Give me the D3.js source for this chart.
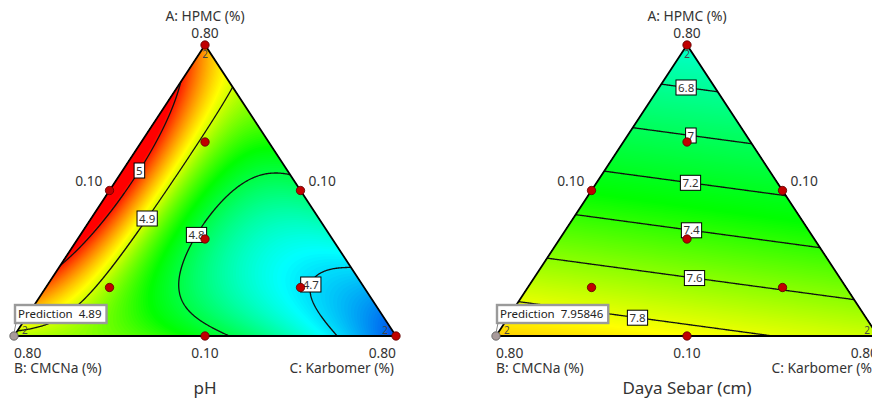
<!DOCTYPE html>
<html>
<head>
<meta charset="utf-8">
<title>Mixture contour plots</title>
<style>
body { margin: 0; background: #fff; }
svg { display: block; font-family: "Noto Sans", "Open Sans", sans-serif; }
</style>
<script src="https://cdnjs.cloudflare.com/ajax/libs/d3/7.8.5/d3.min.js"></script>
</head>
<body>
<svg id="chart" width="872" height="403"></svg>
<script>
// component names and tick labels (actual ranges shown by the software)
var compNames = ["A: HPMC (%)", "B: CMCNa (%)", "C: Karbomer (%)"];
var vertexTicks = ["0.80", "0.80", "0.80"];
var edgeTicks = ["0.10", "0.10", "0.10"];   // AB edge, AC edge, BC edge

// design points in pseudo components (simplex centroid + axial checks)
var designA = [1, 0, 0, 0.5, 0.5, 0, 0.3333, 0.6667, 0.1667, 0.1667];
var designB = [0, 1, 0, 0.5, 0, 0.5, 0.3333, 0.1667, 0.6667, 0.1667];
var designC = [0, 0, 1, 0, 0.5, 0.5, 0.3333, 0.1667, 0.1667, 0.6667];
var replicates = [2, 2, 2, 1, 1, 1, 1, 1, 1, 1];

// pH: Scheffe special cubic  A, B, C, AB, AC, BC, ABC
var phCoef = [4.95, 4.89, 4.63, 0.52, -0.03, 0.23, -3.15];
var phLevels = [4.7, 4.8, 4.9, 5];
var phColorStops = [4.635, 4.715, 4.83, 4.915, 5.01];
var phPrediction = "4.89";

// Daya Sebar: linear mixture model
var dsCoef = [6.62, 7.958, 7.74, 0, 0, 0, 0];
var dsLevels = [6.8, 7, 7.2, 7.4, 7.6, 7.8];
var dsColorStops = [5.6, 6.45, 7.3, 7.85, 8.4];
var dsPrediction = "7.95846";

var rampColors = ["#0055ee", "#00ffff", "#00ff00", "#ffff00", "#ff0000"];

var svg = d3.select("#chart");

function model(k, a, b, c) {
	return k[0]*a + k[1]*b + k[2]*c + k[3]*a*b + k[4]*a*c + k[5]*b*c + k[6]*a*b*c;
}

function drawTernary(o) {
	var x = d3.scaleLinear().domain([0, 1]).range([o.left, o.right]);   // c + a/2
	var y = d3.scaleLinear().domain([0, 1]).range([o.base, o.top]);     // a
	var color = d3.scaleLinear().domain(o.stops).range(rampColors).clamp(true);
	var g = svg.append("g");

	function px(a, b, c) { return [x(c + a/2), y(a)]; }
	var corners = [px(1,0,0), px(0,1,0), px(0,0,1)];

	g.append("clipPath").attr("id", o.id)
		.append("path").attr("d", "M" + corners.join("L") + "Z");

	// sample the model on a pixel grid around the triangle
	function grid(s) {
		var pad = 6;
		var x0 = o.left - pad, y0 = o.top - pad;
		var nx = Math.ceil((o.right - o.left + 2*pad) / s);
		var ny = Math.ceil((o.base - o.top + 2*pad) / s);
		var vals = new Array(nx*ny), lo = Infinity, hi = -Infinity;
		for (var j = 0; j < ny; j++) {
			for (var i = 0; i < nx; i++) {
				var a = y.invert(y0 + (j + 0.5)*s);
				var c = x.invert(x0 + (i + 0.5)*s) - a/2;
				var b = 1 - a - c;
				var v = model(o.coef, a, b, c);
				vals[j*nx + i] = v;
				if (a >= 0 && b >= 0 && c >= 0) { lo = Math.min(lo, v); hi = Math.max(hi, v); }
			}
		}
		var path = d3.geoPath(d3.geoIdentity().scale(s).translate([x0, y0]));
		return {nx: nx, ny: ny, vals: vals, lo: lo, hi: hi, path: path, s: s, x0: x0, y0: y0};
	}

	// smooth colour fill from stacked filled contours
	var gf = grid(2);
	var step = (gf.hi - gf.lo) / 180;
	var fillLevels = d3.range(gf.lo + step, gf.hi, step);
	var fill = g.append("g").attr("clip-path", "url(#" + o.id + ")");
	fill.append("path").attr("d", "M" + corners.join("L") + "Z").attr("fill", color(gf.lo));
	fill.selectAll("path.band")
		.data(d3.contours().size([gf.nx, gf.ny]).thresholds(fillLevels)(gf.vals))
		.join("path").attr("class", "band")
		.attr("d", gf.path)
		.attr("fill", function(d) { return color(d.value + step/2); });

	// contour lines
	var gl = grid(1);
	var lines = d3.contours().size([gl.nx, gl.ny]).thresholds(o.levels)(gl.vals);
	g.append("g").attr("clip-path", "url(#" + o.id + ")")
		.selectAll("path").data(lines).join("path")
		.attr("d", gl.path)
		.attr("fill", "none")
		.attr("stroke", "#111")
		.attr("stroke-width", 1.3);

	// triangle border
	g.append("path").attr("d", "M" + corners.join("L") + "Z")
		.attr("fill", "none").attr("stroke", "#000").attr("stroke-width", 1.8)
		.attr("stroke-linejoin", "miter");

	// contour labels, snapped to the nearest point on each line
	lines.forEach(function(ln, k) {
		var anchor = o.labelAt[k], best = null, bd = Infinity;
		ln.coordinates.forEach(function(poly) { poly.forEach(function(ring) { ring.forEach(function(p) {
			var qx = gl.x0 + p[0]*gl.s, qy = gl.y0 + p[1]*gl.s;
			var d = (qx - anchor[0])*(qx - anchor[0]) + (qy - anchor[1])*(qy - anchor[1]);
			if (d < bd) { bd = d; best = [qx, qy]; }
		}); }); });
		if (!best) return;
		var lg = g.append("g").attr("transform", "translate(" + best + ")");
		var r = lg.append("rect");
		var t = lg.append("text").text(d3.format("~g")(ln.value))
			.attr("text-anchor", "middle").attr("dy", "0.36em")
			.attr("font-size", 11.5).attr("fill", "#333");
		var w = t.node().getComputedTextLength() + 4;
		r.attr("x", -w/2).attr("y", -7.5).attr("width", w).attr("height", 15)
			.attr("fill", "#fff").attr("stroke", "#000").attr("stroke-width", 1);
	});

	// design points
	var pts = designA.map(function(a, i) { return {p: px(a, designB[i], designC[i]), rep: replicates[i], i: i}; });
	g.selectAll("circle.pt").data(pts).join("circle").attr("class", "pt")
		.attr("cx", function(d) { return d.p[0]; })
		.attr("cy", function(d) { return d.p[1]; })
		.attr("r", 4.2)
		.attr("fill", function(d) { return d.i == 1 ? "#a89a9a" : "#c00000"; })
		.attr("stroke", function(d) { return d.i == 1 ? "#555" : "#5a0000"; })
		.attr("stroke-width", 0.8);
	var repOff = [[0, 13, "middle"], [8, -2, "start"], [-8, -2, "end"]];
	g.selectAll("text.rep").data(pts.filter(function(d) { return d.rep > 1; })).join("text")
		.attr("class", "rep")
		.attr("x", function(d) { return d.p[0] + repOff[d.i][0]; })
		.attr("y", function(d) { return d.p[1] + repOff[d.i][1]; })
		.attr("text-anchor", function(d) { return repOff[d.i][2]; })
		.attr("font-size", 10).attr("fill", "#444")
		.text(function(d) { return d.rep; });

	// prediction flag at the B vertex
	var bp = corners[1];
	var flag = g.append("g");
	var ft = flag.append("text").attr("x", bp[0] + 4).attr("y", bp[1] - 18)
		.attr("font-size", 11.5).attr("fill", "#222")
		.text("Prediction\u00a0\u00a0" + o.prediction);
	var fw = ft.node().getComputedTextLength() + 8;
	flag.insert("rect", "text").attr("x", bp[0] + 1).attr("y", bp[1] - 31)
		.attr("width", fw).attr("height", 18)
		.attr("fill", "#fff").attr("stroke", "#9a9a9a").attr("stroke-width", 2.4);
	flag.append("line").attr("x1", bp[0] + 2).attr("y1", bp[1] - 13).attr("x2", bp[0]).attr("y2", bp[1] - 3)
		.attr("stroke", "#888").attr("stroke-width", 1);

	// axis texts
	var txt = function(tx, ty, s, anchor, size) {
		g.append("text").attr("x", tx).attr("y", ty).attr("text-anchor", anchor)
			.attr("font-size", size || 13.8).attr("fill", "#333").text(s);
	};
	txt(corners[0][0], 21, compNames[0], "middle");
	txt(corners[0][0], 38, vertexTicks[0], "middle");
	var mAB = px(0.5, 0.5, 0), mAC = px(0.5, 0, 0.5), mBC = px(0, 0.5, 0.5);
	txt(mAB[0] - 7, mAB[1] - 5, edgeTicks[0], "end");
	txt(mAC[0] + 8, mAC[1] - 5, edgeTicks[1], "start");
	txt(mBC[0], o.base + 22, edgeTicks[2], "middle");
	txt(corners[1][0], o.base + 22, vertexTicks[1], "start");
	txt(corners[1][0], o.base + 37, compNames[1], "start");
	txt(corners[2][0], o.base + 22, vertexTicks[2], "end");
	txt(corners[2][0] - 2, o.base + 37, compNames[2], "end");
	txt(corners[0][0], o.base + 58, o.title, "middle", 17);
}

drawTernary({id: "clipL", left: 14, right: 396, top: 45, base: 336,
	coef: phCoef, levels: phLevels, stops: phColorStops, prediction: phPrediction, title: "pH",
	labelAt: [[310, 284], [193, 233], [143, 216], [135, 168]]});

drawTernary({id: "clipR", left: 496, right: 878, top: 45, base: 336,
	coef: dsCoef, levels: dsLevels, stops: dsColorStops, prediction: dsPrediction, title: "Daya Sebar (cm)",
	labelAt: [[687, 80], [692, 128], [692, 174], [692, 223], [696, 270], [639, 310]]});
</script>
</body>
</html>
